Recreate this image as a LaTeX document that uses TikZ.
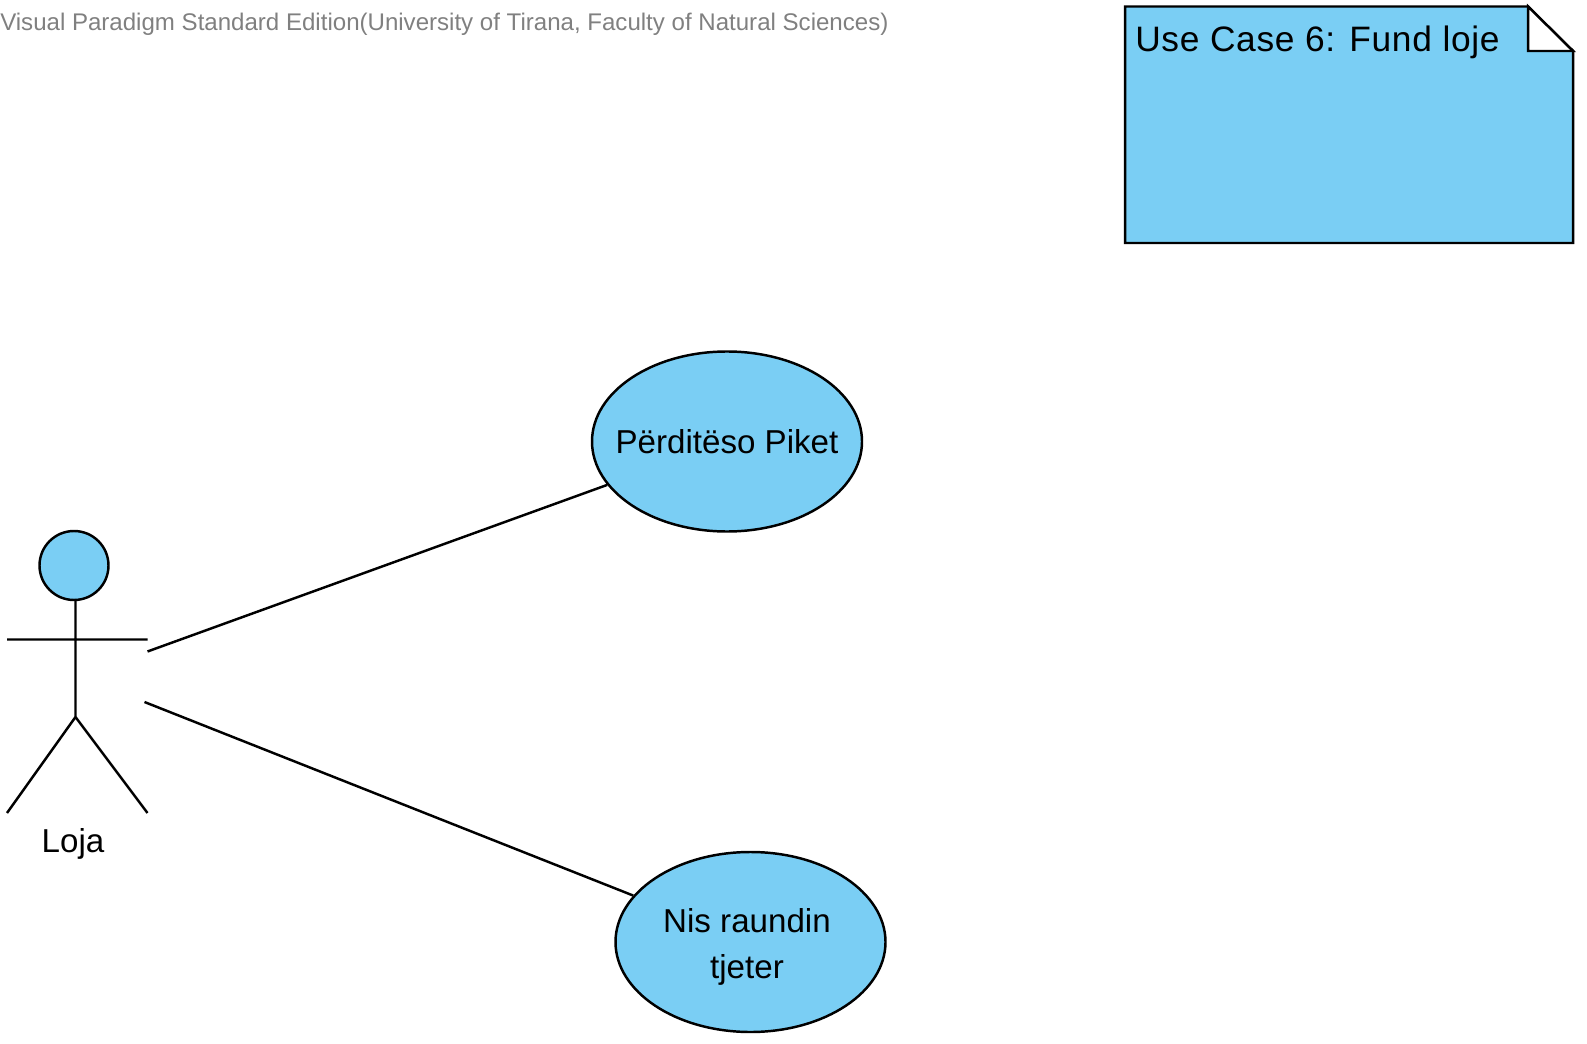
\documentclass[tikz,border=0pt]{standalone}
\usepackage{fontspec}
\setmainfont{Liberation Sans}
\usetikzlibrary{shapes.geometric}
\definecolor{vpblue}{HTML}{7ACEF4}
\tikzset{
  x=0.75pt,y=-0.75pt,
  ln/.style={draw=black,line width=1.85pt},
  usecase/.style={ellipse,draw=black,line width=1.85pt,fill=vpblue,minimum width=202.5pt,minimum height=135pt,inner sep=0pt},
  uctext/.style={inner sep=0pt,align=center,font=\fontsize{24.85pt}{34pt}\selectfont},
  lab/.style={inner sep=0pt,anchor=base west}
}
\begin{document}
\begin{tikzpicture}
\useasboundingbox (0,0) rectangle (1587,1044);
\node[lab,text=black!50,font=\fontsize{18.05pt}{20pt}\selectfont] (wm) at (0,30.5) {Visual Paradigm Standard Edition(University of Tirana, Faculty of Natural Sciences)};
\draw[ln,fill=vpblue] (1125,6.5) -- (1528,6.5) -- (1573,51) -- (1573,243) -- (1125,243) -- cycle;
\draw[ln,fill=white] (1528,6.5) -- (1528,51) -- (1573,51) -- cycle;
\node[lab,font=\fontsize{26.5pt}{30pt}\selectfont\addfontfeatures{LetterSpace=2}] (note) at (1135,52) {Use Case 6: Fund loje};
\node[usecase] (uc1) at (727,441.5) {};
\node[uctext] (uc1t) at (uc1) {Përditëso Piket};
\node[usecase] (uc2) at (750.5,942) {};
\node[uctext] (uc2t) at (747,947) {Nis raundin\\tjeter};
\draw[ln,fill=vpblue] (74,565.5) circle (34.5);
\draw[ln] (75.5,600) -- (75.5,717) (7,639.5) -- (147.5,639.5) (7,813) -- (75.5,717) -- (147.5,813);
\node[inner sep=0pt,anchor=base,font=\fontsize{24.85pt}{30pt}\selectfont] (actor) at (73,852.5) {Loja};
\coordinate (a1) at (147.5,651.5);
\coordinate (a2) at (144.5,702);
\draw[ln] (a1) -- (uc1);
\draw[ln] (a2) -- (uc2);
\end{tikzpicture}
\end{document}
